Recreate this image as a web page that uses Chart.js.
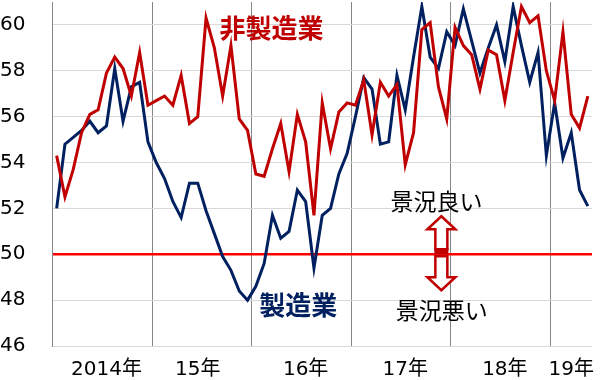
<!DOCTYPE html>
<html lang="ja">
<head>
<meta charset="utf-8">
<title>製造業・非製造業 景況感</title>
<script src="https://cdn.jsdelivr.net/npm/chart.js@4"></script>
<style>
  html, body { margin: 0; padding: 0; background: #fff; }
  #wrap { width: 605px; height: 380px; }
</style>
</head>
<body>
<div id="wrap"><canvas id="chartPmi" width="605" height="380"></canvas></div>
<script>
// 2014年1月 〜 2019年5月（月次）
var years = ['2014年', '15年', '16年', '17年', '18年', '19年'];
var yearLabelAt = [6, 17, 30, 42, 54, 62];   // index of the month that carries the year label
var lastYearMonths = 5;

// 製造業
var manufacturing = [
    52.0, 54.8, 55.1, 55.4, 55.8, 55.3, 55.6, 58.1, 55.8, 57.3, 57.5, 54.9,
    54.0, 53.3, 52.3, 51.6, 53.1, 53.1, 51.9, 50.9, 49.9, 49.3, 48.4, 48.0,
    48.6, 49.6, 51.7, 50.7, 51.0, 52.8, 52.3, 49.4, 51.7, 52.0, 53.5, 54.4,
    56.0, 57.7, 57.2, 54.8, 54.9, 57.8, 56.3, 58.6, 60.8, 58.6, 58.1, 59.7,
    59.1, 60.7, 59.3, 57.9, 59.0, 60.0, 58.4, 60.8, 59.1, 57.5, 58.8, 54.3,
    56.6, 54.2, 55.3, 52.8, 52.1
];

// 非製造業
var nonManufacturing = [
    54.3, 52.5, 53.7, 55.3, 56.1, 56.3, 57.9, 58.6, 58.1, 56.9, 58.8, 56.5,
    56.7, 56.9, 56.5, 57.8, 55.7, 56.0, 60.3, 59.0, 56.9, 59.1, 55.9, 55.4,
    53.5, 53.4, 54.6, 55.7, 53.6, 56.1, 54.9, 51.7, 56.6, 54.6, 56.2, 56.6,
    56.5, 57.6, 55.2, 57.5, 56.9, 57.4, 53.9, 55.3, 59.8, 60.1, 57.3, 55.9,
    59.9, 59.1, 58.7, 57.2, 58.9, 58.7, 56.7, 58.8, 60.8, 60.1, 60.4, 58.0,
    56.7, 59.7, 56.1, 55.5, 56.9
];

var yMin = 46, yMax = 61, yStep = 2, boomLine = 50;

var months = [];
for (var yr = 2014; yr <= 2019; yr++) {
    var n = yr === 2019 ? lastYearMonths : 12;
    for (var m = 1; m <= n; m++) months.push(yr + '/' + m);
}

// text notes: [category index, value]
var notes = [
    { text: '非製造業', at: [25.9, 59.87], font: 'bold 26px "Noto Sans CJK JP"', color: '#c00000' },
    { text: '製造業', at: [29.1, 47.78], font: 'bold 26px "Noto Sans CJK JP"', color: '#002060' },
    { text: '景況良い', at: [45.75, 52.3], font: '23px "Noto Sans CJK JP"', color: '#000' },
    { text: '景況悪い', at: [46.4, 47.57], font: '23px "Noto Sans CJK JP"', color: '#000' }
];
var arrowAt = [46.35, 50];

var notesPlugin = {
    id: 'notes',
    afterDatasetsDraw: function (chart) {
        var ctx = chart.ctx, xs = chart.scales.x, ys = chart.scales.y;
        ctx.save();
        ctx.textAlign = 'center';
        ctx.textBaseline = 'middle';
        notes.forEach(function (n) {
            ctx.font = n.font;
            ctx.fillStyle = n.color;
            ctx.fillText(n.text, xs.getPixelForValue(n.at[0]), ys.getPixelForValue(n.at[1]));
        });

        // hollow up/down arrow on the 50 line
        var cx = xs.getPixelForValue(arrowAt[0]);
        var cy = ys.getPixelForValue(arrowAt[1]);
        ctx.lineWidth = 2.5;
        ctx.strokeStyle = '#c00000';
        ctx.fillStyle = '#fff';
        ctx.lineJoin = 'miter';

        ctx.beginPath();
        ctx.moveTo(cx, cy - 38);
        ctx.lineTo(cx + 14, cy - 25);
        ctx.lineTo(cx + 6, cy - 25);
        ctx.lineTo(cx + 6, cy - 5);
        ctx.lineTo(cx - 6, cy - 5);
        ctx.lineTo(cx - 6, cy - 25);
        ctx.lineTo(cx - 14, cy - 25);
        ctx.closePath();
        ctx.fill();
        ctx.stroke();

        ctx.beginPath();
        ctx.moveTo(cx, cy + 36);
        ctx.lineTo(cx + 14, cy + 23);
        ctx.lineTo(cx + 6, cy + 23);
        ctx.lineTo(cx + 6, cy + 2);
        ctx.lineTo(cx - 6, cy + 2);
        ctx.lineTo(cx - 6, cy + 23);
        ctx.lineTo(cx - 14, cy + 23);
        ctx.closePath();
        ctx.fill();
        ctx.stroke();

        ctx.fillStyle = '#c00000';
        ctx.fillRect(cx - 7, cy - 6, 14, 6);
        ctx.restore();
    }
};

new Chart(document.getElementById('chartPmi'), {
    type: 'line',
    data: {
        labels: months,
        datasets: [{
            label: '非製造業',
            data: nonManufacturing,
            borderColor: '#c00000',
            borderWidth: 3,
            pointRadius: 0,
            tension: 0
        }, {
            label: '製造業',
            data: manufacturing,
            borderColor: '#002060',
            borderWidth: 3,
            pointRadius: 0,
            tension: 0
        }]
    },
    options: {
        responsive: false,
        animation: false,
        layout: { padding: { top: 2, right: 13, left: 0, bottom: 0 } },
        plugins: {
            legend: { display: false },
            tooltip: { enabled: false }
        },
        scales: {
            x: {
                type: 'category',
                offset: true,
                border: { display: false },
                grid: {
                    offset: true,
                    drawTicks: false,
                    color: function (c) { return c.index % 12 === 0 ? '#868686' : 'rgba(0,0,0,0)'; },
                    lineWidth: 1
                },
                ticks: {
                    autoSkip: false,
                    maxRotation: 0,
                    padding: 12,
                    color: '#000',
                    font: { family: '"DejaVu Sans", "Noto Sans CJK JP"', size: 20 },
                    callback: function (val, i) {
                        var k = yearLabelAt.indexOf(i);
                        return k >= 0 ? years[k] : '';
                    }
                },
                afterFit: function (s) { s.height = 34; s.paddingLeft = 0; s.paddingRight = 0; }
            },
            y: {
                min: yMin,
                max: yMax,
                border: { display: true, color: '#868686', width: 1 },
                grid: {
                    drawTicks: false,
                    color: function (c) { return c.tick && c.tick.value === boomLine ? '#ff0000' : '#d9d9d9'; },
                    lineWidth: function (c) { return c.tick && c.tick.value === boomLine ? 2.5 : 1; }
                },
                ticks: {
                    stepSize: yStep,
                    crossAlign: 'far',
                    color: '#000',
                    font: { family: '"DejaVu Sans"', size: 20 }
                },
                afterBuildTicks: function (s) {
                    s.ticks = s.ticks.filter(function (t) { return (t.value - yMin) % yStep === 0; });
                },
                afterFit: function (s) { s.width = 52.5; s.paddingTop = 0; s.paddingBottom = 0; }
            }
        }
    },
    plugins: [notesPlugin]
});
</script>
</body>
</html>
